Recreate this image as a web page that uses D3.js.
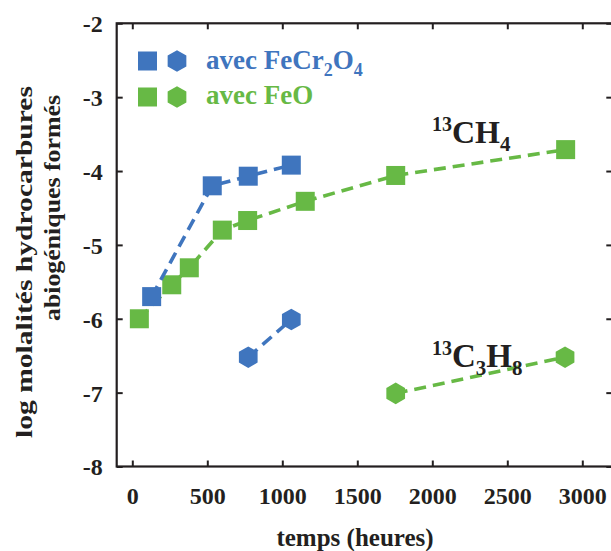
<!DOCTYPE html>
<html><head><meta charset="utf-8">
<script src="https://cdn.jsdelivr.net/npm/d3@7"></script>
<style>
html,body{margin:0;padding:0;background:#fff;}
svg text{font-family:"Liberation Serif","Times New Roman",serif;font-weight:bold;}
</style></head>
<body><svg id="c" width="611" height="551"></svg>
<script>
// Data
const ch4FeCr2O4Time = [129, 533, 773, 1060];
const ch4FeCr2O4Val  = [-5.70, -4.20, -4.07, -3.92];
const ch4FeOTime = [47, 263, 380, 600, 769, 1153, 1756, 2889];
const ch4FeOVal  = [-6.00, -5.54, -5.31, -4.80, -4.67, -4.41, -4.06, -3.71];
const c3h8FeCr2O4Time = [773, 1060];
const c3h8FeCr2O4Val  = [-6.52, -6.01];
const c3h8FeOTime = [1756, 2885];
const c3h8FeOVal  = [-7.01, -6.52];
const xTicks = [0, 500, 1000, 1500, 2000, 2500, 3000];
const yTicks = [-2, -3, -4, -5, -6, -7, -8];
const legendLabels = ["avec FeCr", "avec FeO"];

const BLUE = "#3f75be", GREEN = "#67b945", INK = "#231f20";
const svg = d3.select("#c");
const x = d3.scaleLinear().domain([-104, 3200]).range([116.7, 612.3]);
const y = d3.scaleLinear().domain([-8, -2]).range([466.5, 23.3]);

// frame
svg.append("rect").attr("x", x.range()[0]).attr("y", y(-2))
  .attr("width", x.range()[1]-x.range()[0]).attr("height", y(-8)-y(-2))
  .attr("fill","none").attr("stroke", INK).attr("stroke-width", 2.2);

const tl = 6;
const fmt = d => String(d); // hyphen-minus as in the reference
const gb = svg.append("g").attr("transform",`translate(0,${y(-8)})`)
  .call(d3.axisBottom(x).tickValues(xTicks).tickSizeInner(-tl).tickSizeOuter(0).tickPadding(20).tickFormat(fmt));
const gt = svg.append("g").attr("transform",`translate(0,${y(-2)})`)
  .call(d3.axisTop(x).tickValues(xTicks).tickSizeInner(-tl).tickSizeOuter(0).tickFormat(""));
const gl = svg.append("g").attr("transform",`translate(${x.range()[0]},0)`)
  .call(d3.axisLeft(y).tickValues(yTicks).tickSizeInner(-tl).tickSizeOuter(0).tickPadding(14).tickFormat(fmt));
const gr = svg.append("g").attr("transform",`translate(${x.range()[1]},0)`)
  .call(d3.axisRight(y).tickValues(yTicks).tickSizeInner(-tl).tickSizeOuter(0).tickFormat(""));
[gb,gt,gl,gr].forEach(g=>{
  g.select(".domain").remove();
  g.selectAll(".tick line").attr("stroke", INK).attr("stroke-width", 2);
  g.selectAll("text").attr("fill", INK).style("font-size","24px").style("font-weight","bold")
   .style("font-family",'"Liberation Serif",serif');
});
gl.selectAll(".tick text").attr("dy","0.35em");
gb.selectAll(".tick text").attr("dy","0.71em");

// axis titles
svg.append("text").attr("x", 355).attr("y", 546).attr("text-anchor","middle")
  .attr("fill", INK).style("font-size","25px").text("temps (heures)");
svg.append("text").attr("transform","translate(32,262) rotate(-90)").attr("text-anchor","middle")
  .attr("fill", INK).style("font-size","24px")
  .attr("textLength", 352).attr("lengthAdjust","spacingAndGlyphs").text("log molalités hydrocarbures");
svg.append("text").attr("transform","translate(60,208) rotate(-90)").attr("text-anchor","middle")
  .attr("fill", INK).style("font-size","24px")
  .attr("textLength", 226).attr("lengthAdjust","spacingAndGlyphs").text("abiogéniques formés");

// lines
const dash = "12,7";
function series(tx, vy, color, shape){
  const pts = tx.map((t,i)=>[t, vy[i]]);
  svg.append("path").datum(pts)
    .attr("d", d3.line().x(d=>x(d[0])).y(d=>y(d[1])))
    .attr("fill","none").attr("stroke", color).attr("stroke-width", 3.6).attr("stroke-dasharray", dash);
  drawMarkers(pts.map(p=>[x(p[0]), y(p[1])]), color, shape);
}
const hexPath = (r)=>{const a=d3.range(6).map(i=>{const t=Math.PI/3*i - Math.PI/2;return [r*Math.cos(t), r*Math.sin(t)];});return "M"+a.map(p=>p.join(",")).join("L")+"Z";};
function drawMarkers(pxs, color, shape){
  pxs.forEach(([cx,cy])=>{
    if(shape==="sq"){
      svg.append("rect").attr("x",cx-9.5).attr("y",cy-9.5).attr("width",19).attr("height",19).attr("fill",color);
    } else {
      svg.append("path").attr("d", hexPath(10.8)).attr("transform",`translate(${cx},${cy})`).attr("fill",color);
    }
  });
}
series(ch4FeOTime, ch4FeOVal, GREEN, "sq");
series(ch4FeCr2O4Time, ch4FeCr2O4Val, BLUE, "sq");
series(c3h8FeCr2O4Time, c3h8FeCr2O4Val, BLUE, "hex");
series(c3h8FeOTime, c3h8FeOVal, GREEN, "hex");

// legend
drawMarkers([[147.5, 61]], BLUE, "sq");
drawMarkers([[177, 61]], BLUE, "hex");
drawMarkers([[147.5, 97]], GREEN, "sq");
drawMarkers([[177, 97]], GREEN, "hex");
const t1 = svg.append("text").attr("x", 206).attr("y", 69).attr("fill", BLUE).style("font-size","27px");
t1.append("tspan").text(legendLabels[0]);
t1.append("tspan").text("2").attr("dy", 7).style("font-size","18px");
t1.append("tspan").text("O").attr("dy", -7);
t1.append("tspan").text("4").attr("dy", 7).style("font-size","18px");
svg.append("text").attr("x", 206).attr("y", 104).attr("fill", GREEN).style("font-size","27px").text(legendLabels[1]);

// compound labels
const c1 = svg.append("text").attr("x", 432).attr("y", 143).attr("fill", INK).style("font-size","32px");
c1.append("tspan").text("13").attr("dy", -12).style("font-size","20px");
c1.append("tspan").text("CH").attr("dy", 12);
c1.append("tspan").text("4").attr("dy", 8).style("font-size","21px");
const c2 = svg.append("text").attr("x", 432).attr("y", 367).attr("fill", INK).style("font-size","33px");
c2.append("tspan").text("13").attr("dy", -12).style("font-size","20px");
c2.append("tspan").text("C").attr("dy", 12);
c2.append("tspan").text("3").attr("dy", 8).style("font-size","21px");
c2.append("tspan").text("H").attr("dy", -8);
c2.append("tspan").text("8").attr("dy", 8).style("font-size","21px");
</script></body></html>
